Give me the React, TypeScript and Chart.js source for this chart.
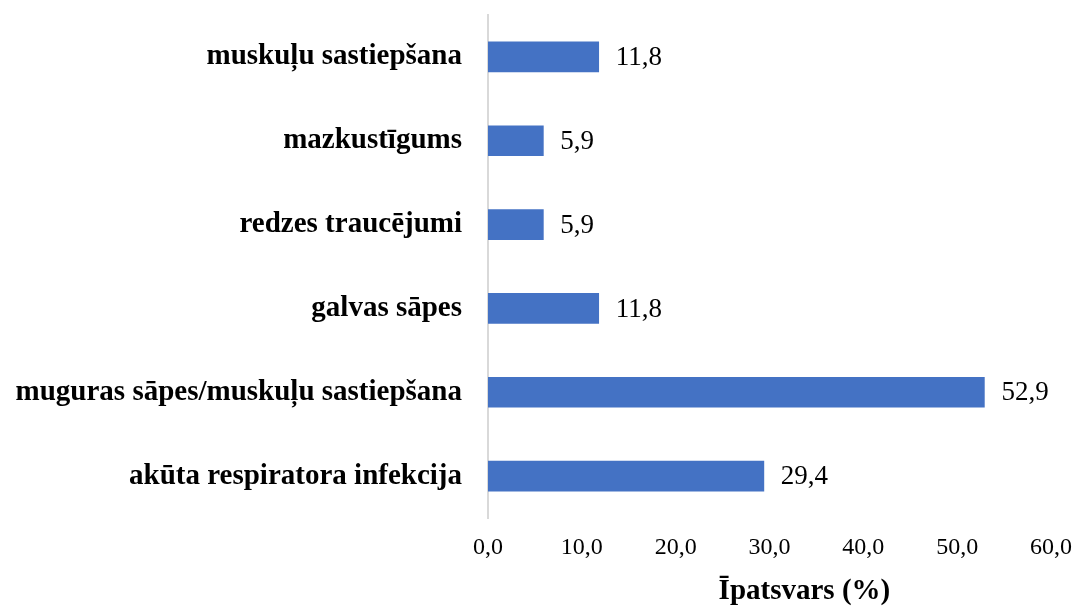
import React, { useEffect, useRef } from "react";
import { Chart, registerables } from "chart.js";

Chart.register(...registerables);

const categories = [
  "muskuļu sastiepšana",
  "mazkustīgums",
  "redzes traucējumi",
  "galvas sāpes",
  "muguras sāpes/muskuļu sastiepšana",
  "akūta respiratora infekcija",
];
const values = [11.8, 5.9, 5.9, 11.8, 52.9, 29.4];
const axisTitle = "Īpatsvars (%)";

const FONT = "'Liberation Serif', 'Times New Roman', serif";

const fmt = (v: number) => v.toFixed(1).replace(".", ",");

const valueLabels = {
  id: "valueLabels",
  afterDatasetsDraw(chart: any) {
    const { ctx } = chart;
    const meta = chart.getDatasetMeta(0);
    ctx.save();
    ctx.font = `27px ${FONT}`;
    ctx.fillStyle = "#000";
    ctx.textAlign = "left";
    ctx.textBaseline = "middle";
    meta.data.forEach((bar: any, i: number) => {
      ctx.fillText(fmt(values[i]), bar.x + 17, bar.y + 1);
    });
    ctx.restore();
  },
};

const axisTitlePlugin = {
  id: "axisTitlePlugin",
  afterDraw(chart: any) {
    const { ctx, chartArea } = chart;
    ctx.save();
    ctx.font = `bold 29px ${FONT}`;
    ctx.fillStyle = "#000";
    ctx.textAlign = "center";
    ctx.textBaseline = "middle";
    const cx = chartArea.left + (chartArea.right - chartArea.left) * 0.562;
    ctx.fillText(axisTitle, cx, chart.height - 18);
    ctx.restore();
  },
};

export default function App() {
  const ref = useRef<HTMLCanvasElement>(null);
  useEffect(() => {
    const chart = new Chart(ref.current!, {
      type: "bar",
      data: {
        labels: categories,
        datasets: [
          {
            data: values,
            backgroundColor: "#4472C4",
            barThickness: 30,
          },
        ],
      },
      options: {
        indexAxis: "y",
        animation: false,
        responsive: false,
        layout: { padding: { left: 0, top: 15, right: 24, bottom: 0 } },
        plugins: {
          legend: { display: false },
          tooltip: { enabled: false },
        },
        scales: {
          x: {
            min: 0,
            max: 60,
            ticks: {
              stepSize: 10,
              color: "#000",
              font: { family: FONT, size: 24 },
              padding: 15,
              callback: (v: any) => fmt(Number(v)),
            },
            grid: { display: false, drawTicks: false },
            border: { display: false },
            title: { display: false },
            afterFit: (s: any) => {
              s.height = 92;
              s.paddingLeft = 0;
              s.paddingRight = 0;
            },
          },
          y: {
            ticks: {
              color: "#000",
              font: { family: FONT, size: 29, weight: "bold" },
              padding: 26,
            },
            grid: { display: false, drawTicks: false },
            border: { display: true, color: "#d9d9d9", width: 2 },
            afterFit: (s: any) => {
              s.width = 488;
              s.paddingTop = 0;
              s.paddingBottom = 0;
            },
          },
        },
      },
      plugins: [valueLabels, axisTitlePlugin],
    });
    return () => chart.destroy();
  }, []);
  return (
    <div style={{ position: "fixed", left: 0, top: 0, width: 1075, height: 610, background: "#fff" }}>
      <canvas ref={ref} width={1075} height={610} />
    </div>
  );
}
